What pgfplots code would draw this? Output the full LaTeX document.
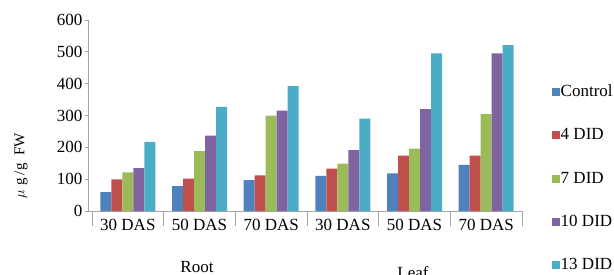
\documentclass[border=0pt]{standalone}
\usepackage{pgfplots}
\pgfplotsset{compat=1.18}
\usepackage{fontspec}
\setmainfont{Liberation Serif}
\definecolor{cA}{HTML}{4F81BD}
\definecolor{cB}{HTML}{C0504D}
\definecolor{cC}{HTML}{9BBB59}
\definecolor{cD}{HTML}{8064A2}
\definecolor{cE}{HTML}{4BACC6}
\definecolor{axgray}{HTML}{A6A6A6}
\begin{document}
\begin{tikzpicture}
\useasboundingbox (-88pt,-63pt) rectangle (526pt,211pt);
\begin{axis}[
  at={(0pt,0pt)}, anchor=south west,
  scale only axis, width=434pt, height=191pt,
  xmin=-0.556, xmax=5.5, ymin=0, ymax=600,
  axis lines*=left,
  axis line style={axgray, line width=0.8pt},
  ybar=0pt, bar width=11pt,
  ytick={0,100,...,600},
  xtick={0,1,2,3,4,5},
  xticklabels={30 DAS,50 DAS,70 DAS,30 DAS,50 DAS,70 DAS},
  x tick style={draw=none},
  y tick style={axgray, line width=0.8pt},
  tick align=outside, major tick length=3pt,
  x tick label style={yshift=-2pt},
  y tick label style={xshift=1pt},
  ticklabel style={font=\fontsize{17}{20}\selectfont},
  /pgf/number format/assume math mode=true,
  legend style={at={(1.069,0.665)}, anchor=north west, draw=none, fill=none,
    inner sep=0pt, row sep=27pt,
    font=\fontsize{17}{20}\selectfont,
    nodes={inner sep=0.6pt, text height=12pt, text depth=3pt}},
  legend cell align=left,
  legend image code/.code={\fill[#1] (0pt,-4pt) rectangle (8pt,4pt);},
]
\addplot[fill=cA, draw=none] coordinates {(0,59) (1,78) (2,97) (3,110) (4,118) (5,145)};
\addplot[fill=cB, draw=none] coordinates {(0,99) (1,102) (2,112) (3,133) (4,174) (5,174)};
\addplot[fill=cC, draw=none] coordinates {(0,121) (1,188) (2,300) (3,149) (4,196) (5,304)};
\addplot[fill=cD, draw=none] coordinates {(0,135) (1,237) (2,315) (3,191) (4,320) (5,495)};
\addplot[fill=cE, draw=none] coordinates {(0,217) (1,327) (2,392) (3,290) (4,495) (5,521)};
\legend{Control,4 DID,7 DID,10 DID,13 DID}
\end{axis}
\begin{axis}[
  at={(0pt,0pt)}, anchor=south west,
  scale only axis, width=434pt, height=191pt,
  xmin=-0.556, xmax=5.5, ymin=0, ymax=600,
  hide y axis, axis x line*=bottom,
  axis line style={draw=none},
  xtick={-0.5,0.5,...,5.5}, xticklabels={},
  tick align=outside, major tick length=15pt,
  x tick style={axgray, line width=0.8pt},
]
\addplot[draw=none] coordinates {(0,0)};
\end{axis}
\node[rotate=90, font=\fontsize{15}{17}\selectfont] at (-67pt,45pt) {$\mu$\,\,g\,/g\ \ FW};
\node[font=\fontsize{17}{20}\selectfont] at (109pt,-56pt) {Root};
\node[font=\fontsize{17}{20}\selectfont] at (325pt,-62pt) {Leaf};
\end{tikzpicture}
\end{document}
